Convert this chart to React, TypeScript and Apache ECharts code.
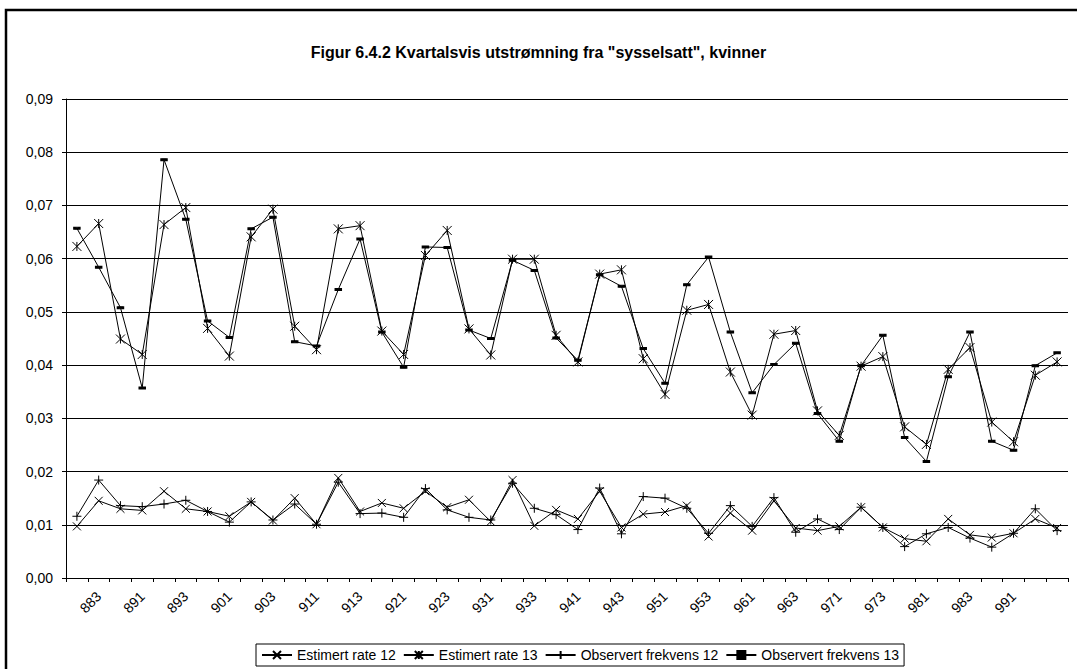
import React, { useEffect, useRef } from "react";
import * as echarts from "echarts";

const categories = [
  "882", "883", "884",
  "891", "892", "893", "894",
  "901", "902", "903", "904",
  "911", "912", "913", "914",
  "921", "922", "923", "924",
  "931", "932", "933", "934",
  "941", "942", "943", "944",
  "951", "952", "953", "954",
  "961", "962", "963", "964",
  "971", "972", "973", "974",
  "981", "982", "983", "984",
  "991", "992", "993",
];

const estimert12 = [
  0.0097, 0.0145, 0.013,
  0.0127, 0.0163, 0.013, 0.0125,
  0.0116, 0.0143, 0.0108, 0.015,
  0.0101, 0.0188, 0.0125, 0.0141,
  0.0131, 0.0163, 0.0133, 0.0147,
  0.0106, 0.0184, 0.0098, 0.0128,
  0.0111, 0.0163, 0.0095, 0.012,
  0.0124, 0.0136, 0.0078, 0.0122,
  0.0089, 0.0145, 0.0094, 0.0089,
  0.0097, 0.0133, 0.0095, 0.0074,
  0.0069, 0.0111, 0.0081, 0.0076,
  0.0084, 0.0111, 0.0094,
];

const estimert13 = [
  0.0623, 0.0666, 0.0449,
  0.042, 0.0664, 0.0696, 0.0469,
  0.0417, 0.0641, 0.0693, 0.0473,
  0.0429, 0.0656, 0.0662, 0.0464,
  0.042, 0.0606, 0.0653, 0.0468,
  0.0419, 0.0599, 0.0599, 0.0456,
  0.0406, 0.0571, 0.0579, 0.0412,
  0.0345, 0.0503, 0.0514, 0.0387,
  0.0306, 0.0458, 0.0465, 0.0314,
  0.0268, 0.0398, 0.0416, 0.0284,
  0.0251, 0.0392, 0.0433, 0.0293,
  0.0256, 0.0381, 0.0406,
];

const observert12 = [
  0.0116, 0.0184, 0.0136,
  0.0134, 0.0139, 0.0146, 0.0125,
  0.0105, 0.0143, 0.0109, 0.0139,
  0.0101, 0.018, 0.0121, 0.0122,
  0.0114, 0.0168, 0.0128, 0.0114,
  0.0109, 0.0178, 0.0131, 0.0119,
  0.0091, 0.0169, 0.0083, 0.0153,
  0.015, 0.0131, 0.0084, 0.0136,
  0.0097, 0.0151, 0.0086, 0.0111,
  0.0091, 0.0133, 0.0095, 0.0059,
  0.0083, 0.0095, 0.0075, 0.0058,
  0.0084, 0.013, 0.0089,
];

const observert13 = [
  0.0657, 0.0584, 0.0508,
  0.0357, 0.0786, 0.0674, 0.0483,
  0.0452, 0.0656, 0.0678, 0.0444,
  0.0436, 0.0542, 0.0637, 0.0462,
  0.0396, 0.0622, 0.0621, 0.0466,
  0.045, 0.0597, 0.0578, 0.0451,
  0.0409, 0.057, 0.0548, 0.0431,
  0.0366, 0.0551, 0.0603, 0.0462,
  0.0348, 0.0401, 0.0441, 0.0309,
  0.0257, 0.0399, 0.0456, 0.0264,
  0.0219, 0.0378, 0.0462, 0.0257,
  0.024, 0.0399, 0.0423,
];

const seriesNames = [
  "Estimert rate 12",
  "Estimert rate 13",
  "Observert frekvens 12",
  "Observert frekvens 13",
];

const yTicks = { min: 0, max: 0.09, interval: 0.01 };

const titleText = 'Figur 6.4.2 Kvartalsvis utstrømning fra "sysselsatt", kvinner';

const FONT = "'Liberation Sans', Arial, sans-serif";

const SYM_X = "path://M0,0L10,10M10,0L0,10";
const SYM_STAR = "path://M0,0L10,10M10,0L0,10M5,0L5,10";
const SYM_PLUS = "path://M5,0L5,10M0,5L10,5";

function makeSeries(name: string, data: number[], symbol: string, size: any) {
  return {
    name,
    type: "line",
    data,
    symbol,
    symbolSize: size,
    showSymbol: true,
    lineStyle: { color: "#000", width: 1 },
    itemStyle: { color: "#000", borderColor: "#000", borderWidth: 1 },
    emphasis: { disabled: true },
    z: 3,
  };
}

export default function App() {
  const ref = useRef<HTMLDivElement>(null);

  useEffect(() => {
    if (!ref.current) return;
    const chart = echarts.init(ref.current, undefined, { renderer: "svg" });
    const option: any = {
      animation: false,
      backgroundColor: "#fff",
      textStyle: { fontFamily: FONT, color: "#000" },
      title: {
        text: titleText,
        left: "center",
        top: 39,
        textStyle: { fontFamily: FONT, fontSize: 16, fontWeight: "bold", color: "#000" },
      },
      graphic: [
        {
          type: "rect",
          silent: true,
          shape: { x: 6, y: 10, width: 1090, height: 690 },
          style: { fill: "none", stroke: "#000", lineWidth: 2.5 },
        },
      ],
      legend: {
        data: seriesNames,
        left: 256,
        top: 644,
        orient: "horizontal",
        itemWidth: 30,
        itemHeight: 10,
        itemGap: 7,
        padding: [4, 5],
        borderColor: "#000",
        borderWidth: 1,
        textStyle: { fontFamily: FONT, fontSize: 14, color: "#000" },
      },
      grid: { left: 66, right: 9, top: 99, bottom: 91 },
      xAxis: {
        type: "category",
        data: categories,
        boundaryGap: true,
        axisLine: { lineStyle: { color: "#000", width: 1 } },
        axisTick: { show: true, interval: 0, length: 4, inside: false, lineStyle: { color: "#000" } },
        axisLabel: {
          rotate: 45,
          margin: 16,
          interval: (index: number) => index % 2 === 1 && index <= 43,
          fontFamily: FONT,
          fontSize: 14,
          color: "#000",
        },
        splitLine: { show: false },
      },
      yAxis: {
        type: "value",
        min: yTicks.min,
        max: yTicks.max,
        interval: yTicks.interval,
        axisLine: { show: true, lineStyle: { color: "#000", width: 1 } },
        axisTick: { show: true, length: 4, lineStyle: { color: "#000" } },
        axisLabel: {
          margin: 13,
          fontFamily: FONT,
          fontSize: 14,
          color: "#000",
          formatter: (v: number) => v.toFixed(2).replace(".", ","),
        },
        splitLine: { show: true, lineStyle: { color: "#000", width: 1 } },
      },
      series: [
        makeSeries(seriesNames[0], estimert12, SYM_X, 8),
        makeSeries(seriesNames[1], estimert13, SYM_STAR, 9),
        makeSeries(seriesNames[2], observert12, SYM_PLUS, 9),
        makeSeries(seriesNames[3], observert13, "rect", [5, 2]),
      ],
    };
    chart.setOption(option);
    return () => chart.dispose();
  }, []);

  return (
    <div
      ref={ref}
      style={{ position: "fixed", left: 0, top: 0, width: 1077, height: 669, background: "#fff" }}
    />
  );
}
